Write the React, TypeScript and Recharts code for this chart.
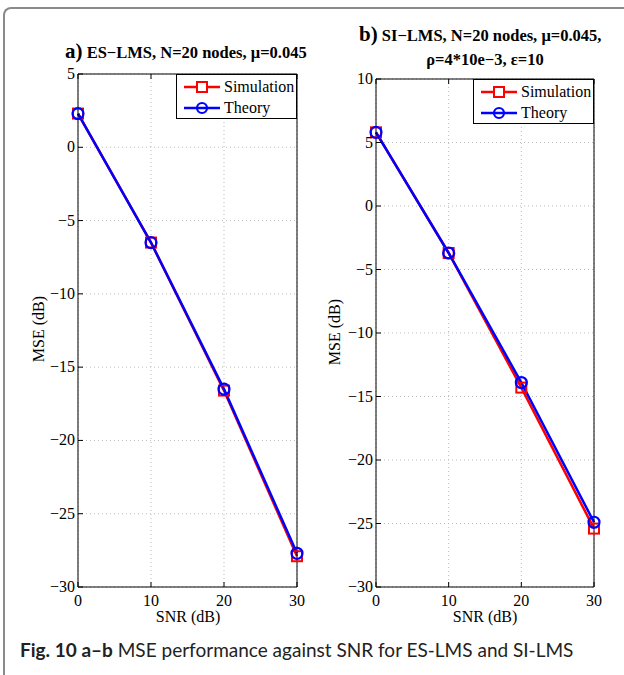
import { LineChart, Line, XAxis, YAxis, CartesianGrid } from "recharts";

// SNR points (dB)
const SNR = [0, 10, 20, 30];
const X_TICKS = [0, 10, 20, 30];

// a) ES-LMS
const A_SIM = [2.3, -6.5, -16.6, -27.9];
const A_THEORY = [2.3, -6.5, -16.5, -27.7];
const A_Y_TICKS = [5, 0, -5, -10, -15, -20, -25, -30];

// b) SI-LMS
const B_SIM = [5.8, -3.7, -14.3, -25.4];
const B_THEORY = [5.8, -3.7, -13.9, -24.9];
const B_Y_TICKS = [10, 5, 0, -5, -10, -15, -20, -25, -30];

const SERIF = '"Liberation Serif", "DejaVu Serif", serif';
const RED = "#ff0000";
const BLUE = "#0000ff";

const fmt = (v: number) => String(v).replace("-", "\u2212");

function buildData(sim: number[], theory: number[]) {
  return SNR.map((snr, i) => ({ snr, sim: sim[i], theory: theory[i] }));
}

// ticks drawn inward, matlab style
const BottomTick = (p: any) => (
  <g>
    <line x1={p.x} y1={p.y} x2={p.x} y2={p.y - 5} stroke="#000" />
    <text x={p.x} y={p.y + 19} textAnchor="middle" fontFamily={SERIF} fontSize={16} fill="#000">
      {fmt(p.payload.value)}
    </text>
  </g>
);
const TopTick = (p: any) => (
  <line x1={p.x} y1={p.y} x2={p.x} y2={p.y + 5} stroke="#000" />
);
const LeftTick = (p: any) => (
  <g>
    <line x1={p.x} y1={p.y} x2={p.x + 5} y2={p.y} stroke="#000" />
    <text x={p.x - 3} y={p.y + 5} textAnchor="end" fontFamily={SERIF} fontSize={16} fill="#000">
      {fmt(p.payload.value)}
    </text>
  </g>
);
const RightTick = (p: any) => (
  <line x1={p.x} y1={p.y} x2={p.x - 5} y2={p.y} stroke="#000" />
);

const SquareDot = (p: any) => (
  <rect
    key={`sq-${p.index}`}
    x={p.cx - 5}
    y={p.cy - 5}
    width={10}
    height={10}
    fill="none"
    stroke={RED}
    strokeWidth={2}
  />
);
const CircleDot = (p: any) => (
  <circle key={`ci-${p.index}`} cx={p.cx} cy={p.cy} r={5.5} fill="none" stroke={BLUE} strokeWidth={2.2} />
);

function Panel({
  left,
  width,
  margin,
  sim,
  theory,
  yTicks,
}: {
  left: number;
  width: number;
  margin: { top: number; right: number; bottom: number; left: number };
  sim: number[];
  theory: number[];
  yTicks: number[];
}) {
  const data = buildData(sim, theory);
  const yDomain = [yTicks[yTicks.length - 1], yTicks[0]];
  return (
    <div style={{ position: "absolute", left, top: 0 }}>
      <LineChart width={width} height={675} data={data} margin={margin}>
        <CartesianGrid stroke="#bdbdbd" strokeDasharray="1 3" />
        <XAxis
          dataKey="snr"
          type="number"
          domain={[0, 30]}
          ticks={X_TICKS}
          interval={0}
          height={40}
          tickSize={0}
          tickMargin={0}
          tickLine={false}
          axisLine={{ stroke: "#000" }}
          tick={BottomTick}
        />
        <XAxis
          xAxisId="top"
          orientation="top"
          dataKey="snr"
          type="number"
          domain={[0, 30]}
          ticks={X_TICKS}
          interval={0}
          height={10}
          tickSize={0}
          tickMargin={0}
          tickLine={false}
          axisLine={{ stroke: "#000" }}
          tick={TopTick}
        />
        <YAxis
          type="number"
          domain={yDomain}
          ticks={yTicks}
          interval={0}
          width={40}
          tickSize={0}
          tickMargin={0}
          tickLine={false}
          axisLine={{ stroke: "#000" }}
          tick={LeftTick}
        />
        <YAxis
          yAxisId="right"
          orientation="right"
          type="number"
          domain={yDomain}
          ticks={yTicks}
          interval={0}
          width={10}
          tickSize={0}
          tickMargin={0}
          tickLine={false}
          axisLine={{ stroke: "#000" }}
          tick={RightTick}
        />
        <Line
          dataKey="sim"
          stroke={RED}
          strokeWidth={2.5}
          dot={SquareDot}
          activeDot={false}
          isAnimationActive={false}
        />
        <Line
          dataKey="theory"
          stroke={BLUE}
          strokeWidth={2.5}
          dot={CircleDot}
          activeDot={false}
          isAnimationActive={false}
        />
      </LineChart>
    </div>
  );
}

function LegendBox({ left, top }: { left: number; top: number }) {
  const row = (label: string, color: string, marker: "sq" | "ci") => (
    <div style={{ display: "flex", alignItems: "center", height: 21 }}>
      <svg width={40} height={14} style={{ marginLeft: 6 }}>
        <line x1={1} y1={7} x2={37} y2={7} stroke={color} strokeWidth={2.5} />
        {marker === "sq" ? (
          <rect x={14} y={2} width={10} height={10} fill="#fff" stroke={color} strokeWidth={2} />
        ) : (
          <circle cx={19} cy={7} r={5} fill="none" stroke={color} strokeWidth={2.2} />
        )}
      </svg>
      <span style={{ fontFamily: SERIF, fontSize: 16, marginLeft: 1 }}>{label}</span>
    </div>
  );
  return (
    <div
      style={{
        position: "absolute",
        left,
        top,
        width: 121,
        height: 45,
        border: "1px solid #000",
        background: "#fff",
        boxSizing: "border-box",
        paddingTop: 1,
      }}
    >
      {row("Simulation", RED, "sq")}
      {row("Theory", BLUE, "ci")}
    </div>
  );
}

const abs = (style: React.CSSProperties): React.CSSProperties => ({
  position: "absolute",
  whiteSpace: "nowrap",
  fontFamily: SERIF,
  color: "#000",
  ...style,
});

export default function App() {
  return (
    <div
      style={{
        position: "absolute",
        left: 0,
        top: 0,
        width: 624,
        height: 675,
        background: "#fff",
        overflow: "hidden",
      }}
    >
      {/* figure frame */}
      <div
        style={{
          position: "absolute",
          left: 3,
          top: 7,
          width: 640,
          height: 700,
          borderTop: "2px solid #8a8a8a",
          borderLeft: "2px solid #8a8a8a",
          borderTopLeftRadius: 8,
        }}
      />

      <Panel
        left={0}
        width={320}
        margin={{ top: 64, right: 13, bottom: 48, left: 38 }}
        sim={A_SIM}
        theory={A_THEORY}
        yTicks={A_Y_TICKS}
      />
      <Panel
        left={297}
        width={327}
        margin={{ top: 69, right: 20, bottom: 48, left: 39 }}
        sim={B_SIM}
        theory={B_THEORY}
        yTicks={B_Y_TICKS}
      />

      <LegendBox left={176} top={74} />
      <LegendBox left={473} top={79} />

      {/* titles */}
      <div style={abs({ left: 65, top: 41, fontWeight: "bold", fontSize: 16.5, lineHeight: "20px" })}>
        <span style={{ fontSize: 21 }}>a)</span> ES{"\u2212"}LMS, N=20 nodes, {"\u03bc"}=0.045
      </div>
      <div style={abs({ left: 359, top: 24, fontWeight: "bold", fontSize: 16.5, lineHeight: "20px" })}>
        <span style={{ fontSize: 21 }}>b)</span> SI{"\u2212"}LMS, N=20 nodes, {"\u03bc"}=0.045,
      </div>
      <div
        style={abs({
          left: 385,
          top: 50,
          width: 200,
          textAlign: "center",
          fontWeight: "bold",
          fontSize: 16.5,
          lineHeight: "20px",
        })}
      >
        {"\u03c1"}=4*10e{"\u2212"}3, {"\u03b5"}=10
      </div>

      {/* axis labels */}
      <div style={abs({ left: 138, top: 608, width: 100, textAlign: "center", fontSize: 16 })}>SNR (dB)</div>
      <div style={abs({ left: 435, top: 608, width: 100, textAlign: "center", fontSize: 16 })}>SNR (dB)</div>
      <div
        style={abs({
          left: -11,
          top: 320,
          width: 100,
          textAlign: "center",
          fontSize: 16,
          transform: "rotate(-90deg)",
        })}
      >
        MSE (dB)
      </div>
      <div
        style={abs({
          left: 285,
          top: 323,
          width: 100,
          textAlign: "center",
          fontSize: 16,
          transform: "rotate(-90deg)",
        })}
      >
        MSE (dB)
      </div>

      {/* caption */}
      <div style={abs({ left: 20, top: 638, fontFamily: "Lato, sans-serif", fontSize: 19, color: "#222" })}>
        <b>Fig. 10 a</b>
        <b>{"\u2013"}b</b> MSE performance against SNR for ES-LMS and SI-LMS
      </div>
    </div>
  );
}
